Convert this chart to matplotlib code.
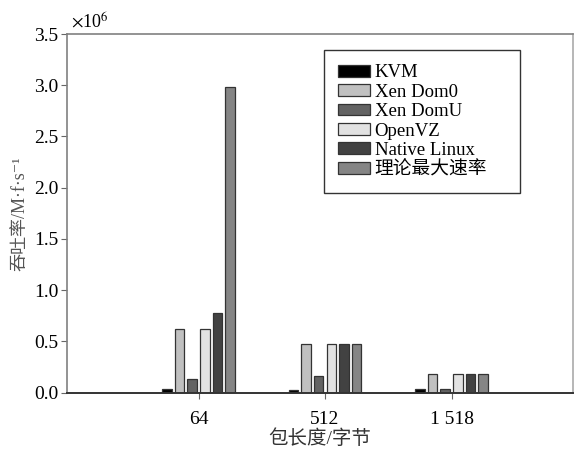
import matplotlib
matplotlib.use("Agg")
import matplotlib.pyplot as plt
import numpy as np

plt.rcParams['font.family'] = ['Liberation Serif', 'Noto Sans CJK SC', 'DejaVu Sans']
plt.rcParams['mathtext.fontset'] = 'stix'

# packet sizes and throughput (frames/s)
sizes = ['64', '512', '1 518']
series = ['KVM', 'Xen Dom0', 'Xen DomU', 'OpenVZ', 'Native Linux', '理论最大速率']
kvm = [0.03e6, 0.02e6, 0.03e6]
xen_dom0 = [0.62e6, 0.47e6, 0.18e6]
xen_domu = [0.13e6, 0.16e6, 0.03e6]
openvz = [0.62e6, 0.47e6, 0.18e6]
native = [0.78e6, 0.47e6, 0.18e6]
theory = [2.98e6, 0.47e6, 0.18e6]
colors = ['#000000', '#c0c0c0', '#636363', '#e2e2e2', '#424242', '#858585']

values = [kvm, xen_dom0, xen_domu, openvz, native, theory]
x = np.arange(1, 4)

fig = plt.figure(figsize=(5.74, 4.53), dpi=100)
ax = fig.add_axes([67/574, 1-392.5/453, 506/574, 358.5/453])

for i, (name, vals) in enumerate(zip(series, values)):
    ax.bar(x + (i - 2.5)*0.1, vals, width=0.075, color=colors[i],
           edgecolor='#333333', linewidth=0.9, label=name)

ax.set_xlim(-0.04, 3.96)
ax.set_ylim(0, 3.5e6)
ax.set_xticks(x)
ax.set_xticklabels(sizes)
ax.set_yticks(np.arange(0, 3.51e6, 0.5e6))
ax.yaxis.set_major_formatter(plt.FuncFormatter(lambda v, p: '%.1f' % (v/1e6)))
ax.text(0.008, 1.008, r'$\times$10$^6$', transform=ax.transAxes, fontsize=13, va='bottom')

ax.tick_params(direction='out', length=4, labelsize=14, colors='#666666', labelcolor='black',
               top=False, right=False, pad=2)
ax.tick_params(axis='x', pad=9)
for s in ['top', 'right', 'left']:
    ax.spines[s].set_color('#808080')
    ax.spines[s].set_linewidth(1.2)
ax.spines['right'].set_color('#aaaaaa')
ax.spines['bottom'].set_color('#333333')
ax.spines['bottom'].set_linewidth(1.4)

ax.set_ylabel('吞吐率/M·f·s⁻¹', fontsize=13, color='#555555', labelpad=4)
ax.set_xlabel('包长度/字节', fontsize=14, color='#333333', labelpad=1)

leg = ax.legend(loc='upper left', bbox_to_anchor=(0.508, 0.545, 0.387, 0.41), mode='expand',
                fontsize=13.5, frameon=True, fancybox=False, edgecolor='black',
                handlelength=1.7, handleheight=0.6, labelspacing=0.13, handletextpad=0.25,
                borderpad=0.75, borderaxespad=0)
leg.get_frame().set_linewidth(1.0)

plt.savefig('out.png', dpi=100)
